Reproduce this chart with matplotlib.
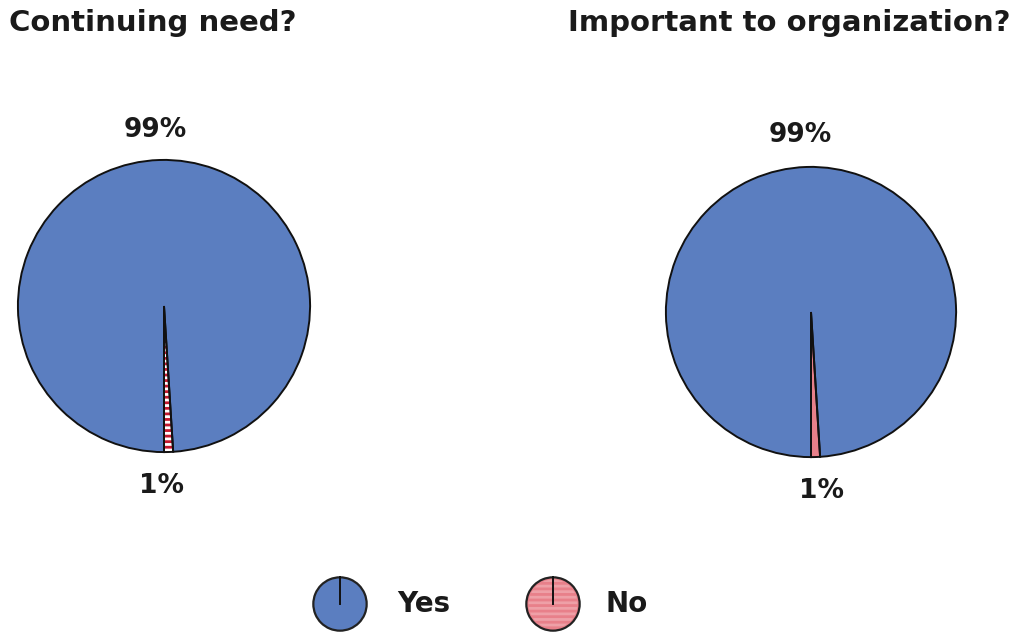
import matplotlib
matplotlib.use("Agg")
import matplotlib.pyplot as plt

plt.rcParams['font.family'] = ['DejaVu Sans']
plt.rcParams['hatch.linewidth'] = 2.0

# survey answers, percent
titles = ["Continuing need?", "Important to organization?"]
answers = ["No", "Yes"]
need_pct = [1, 99]
important_pct = [1, 99]

blue = "#5b7ec0"
pink = "#e8808a"
stripe_red = "#c4182e"

W, H = 1016, 635
fig = plt.figure(figsize=(W / 100, H / 100), dpi=100)
fig.patch.set_facecolor("white")


def px_axes(cx, cy, r):
    # square axes centred on a pixel position (y measured from top)
    return fig.add_axes([(cx - r) / W, (H - cy - r) / H, 2 * r / W, 2 * r / H])


def draw_pie(ax, vals, no_face, no_hatch):
    w, _ = ax.pie(vals, colors=[no_face, blue], startangle=270, counterclock=True,
                  radius=1, wedgeprops=dict(linewidth=0))
    if no_hatch:
        w[0].set_hatch(no_hatch)
        w[0].set_edgecolor(stripe_red)
    # black outlines on top
    ax.pie(vals, colors=["none", "none"], startangle=270, counterclock=True,
           radius=1, wedgeprops=dict(linewidth=1.4, edgecolor="#111111", fill=False))
    ax.set_xlim(-1.02, 1.02)
    ax.set_ylim(-1.02, 1.02)
    ax.set_aspect("equal")
    ax.axis("off")


ax1 = px_axes(164, 306, 149)
draw_pie(ax1, need_pct, "white", "---")
ax2 = px_axes(811, 312, 148)
draw_pie(ax2, important_pct, pink, None)

# titles
fig.text(9 / W, 1 - 23 / H, titles[0], fontsize=21, fontweight="bold",
         color="#1a1a1a", va="center", ha="left")
fig.text(1010 / W, 1 - 23 / H, titles[1], fontsize=21, fontweight="bold",
         color="#1a1a1a", va="center", ha="right")

# percentage labels
lbl = dict(fontsize=19, fontweight="bold", color="#1a1a1a", ha="center", va="center")
fig.text(155 / W, 1 - 130 / H, f"{need_pct[1]}%", **lbl)
fig.text(161 / W, 1 - 486 / H, f"{need_pct[0]}%", **lbl)
fig.text(800 / W, 1 - 135 / H, f"{important_pct[1]}%", **lbl)
fig.text(821 / W, 1 - 491 / H, f"{important_pct[0]}%", **lbl)

# legend: small pie icons
for cx, face, hatch, name, tx in [(340, blue, None, answers[1], 397),
                                  (553, pink, "---", answers[0], 606)]:
    lax = px_axes(cx, 604, 28)
    lax.pie([1], colors=[face], radius=1,
            wedgeprops=dict(linewidth=1.6, edgecolor="#222222"))
    if hatch:
        lax.pie([1], colors=["none"], radius=0.92, hatch=hatch,
                wedgeprops=dict(linewidth=0, edgecolor="#eea0a7"))
    lax.plot([0, 0], [0, 1], color="#111111", lw=1.4)
    lax.set_xlim(-1.05, 1.05)
    lax.set_ylim(-1.05, 1.05)
    lax.set_aspect("equal")
    lax.axis("off")
    fig.text(tx / W, 1 - 604 / H, name, fontsize=20, fontweight="bold",
             color="#1a1a1a", va="center", ha="left")

fig.savefig("out.png", dpi=100, facecolor="white")
